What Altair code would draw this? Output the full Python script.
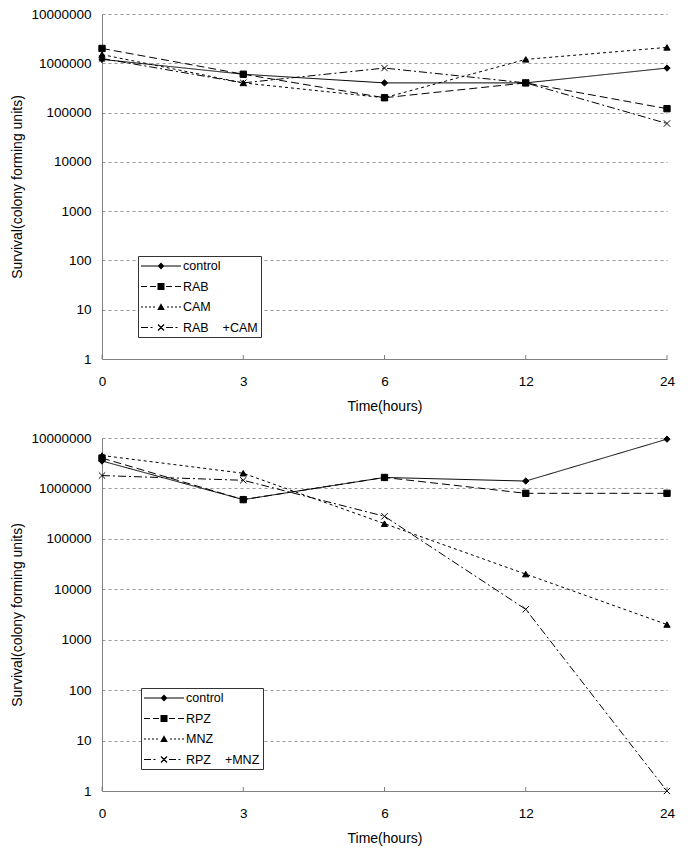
import altair as alt
import pandas as pd

hours = ["0", "3", "6", "12", "24"]
y_ticks = [1, 10, 100, 1000, 10000, 100000, 1000000, 10000000]

NB = "\u00a0"
top_names = ["control", "RAB", "CAM", "RAB" + NB * 4 + "+CAM" + NB * 3]
top_control = [1200000, 600000, 400000, 400000, 800000]
top_rab = [2000000, 600000, 200000, 400000, 120000]
top_cam = [1500000, 400000, 200000, 1200000, 2100000]
top_rab_cam = [1250000, 400000, 800000, 400000, 60000]

bot_names = ["control", "RPZ", "MNZ", "RPZ" + NB * 4 + "+MNZ" + NB * 3]
bot_control = [3500000, 600000, 1650000, 1400000, 9500000]
bot_rpz = [4000000, 600000, 1650000, 800000, 800000]
bot_mnz = [4500000, 2000000, 200000, 20000, 2000]
bot_rpz_mnz = [1800000, 1450000, 280000, 4000, 1]

dashes = [[1, 0], [8, 4], [3, 3], [8, 3, 2, 3]]
marker_shapes = ["diamond", "square", "triangle-up", "M-1,-1L1,1M-1,1L1,-1"]

# ---- legend glyphs (line sample + marker), built as filled polygons ----
SYM = 169          # legend symbol size -> 1 unit = sqrt(SYM)/2 px
U = 6.5            # px per path unit
CX = 7             # symbol centre offset inside legend entry (px)
MX = 20            # marker centre along the 40px sample (px)


def _pt(px, py):
    return f"{(px - CX) / U:.3f},{py / U:.3f}"


def _poly(points):
    return "M" + "L".join(_pt(a, b) for a, b in points) + "Z"


def _seg(x0, x1, h=0.55):
    return _poly([(x0, -h), (x1, -h), (x1, h), (x0, h)])


def _segs(pairs):
    return "".join(_seg(a, b) for a, b in pairs)


diamond = _poly([(MX, -3.4), (MX + 3.4, 0), (MX, 3.4), (MX - 3.4, 0)])
square = _poly([(MX - 3.5, -3.5), (MX + 3.5, -3.5), (MX + 3.5, 3.5), (MX - 3.5, 3.5)])
triangle = _poly([(MX, -3.8), (MX + 3.8, 3.0), (MX - 3.8, 3.0)])
t = 0.45
cross = (_poly([(MX - 3 + t, -3 - t), (MX + 3 + t, 3 - t), (MX + 3 - t, 3 + t), (MX - 3 - t, -3 + t)])
         + _poly([(MX - 3 - t, 3 - t), (MX + 3 - t, -3 - t), (MX + 3 + t, -3 + t), (MX - 3 + t, 3 + t)]))

legend_paths = [
    _segs([(0, 40)]) + diamond,
    _segs([(0, 6), (9, 15), (25, 31), (34, 40)]) + square,
    _segs([(0, 2), (4, 6), (8, 10), (12, 14), (26, 28), (30, 32), (34, 36), (38, 40)]) + triangle,
    _segs([(0, 7), (9.5, 11.5), (25, 32), (34.5, 36.5)]) + cross,
]

FONT = "Liberation Sans"
W = 565


def panel(names, series, height, leg_x, leg_y):
    rows = []
    for n, vals in zip(names, series):
        for h, v in zip(hours, vals):
            rows.append({"hour": h, "value": v, "series": n})
    df = pd.DataFrame(rows)

    x = alt.X(
        "hour:O",
        sort=hours,
        scale=alt.Scale(type="point", padding=0),
        axis=alt.Axis(
            title="Time(hours)", labelAngle=0, ticks=False, grid=False,
            labelPadding=15, titlePadding=12, domainColor="#808080",
            labelFont=FONT, labelFontSize=13.5, labelColor="black",
            titleFont=FONT, titleFontSize=14, titleFontWeight="normal",
            titleColor="black",
        ),
    )
    y = alt.Y(
        "value:Q",
        scale=alt.Scale(type="log", domain=[1, 10000000], nice=False),
        axis=alt.Axis(
            values=y_ticks, format="d", title="Survival(colony forming units)",
            ticks=False, grid=True, gridDash=[3, 3], gridColor="#999999",
            domainColor="#808080", labelPadding=11, titlePadding=6,
            labelFont=FONT, labelFontSize=13.5, labelColor="black",
            titleFont=FONT, titleFontSize=14, titleFontWeight="normal",
            titleColor="black",
        ),
    )
    base = alt.Chart(df)
    lines = base.mark_line(color="black", strokeWidth=1).encode(
        x=x, y=y,
        strokeDash=alt.StrokeDash("series:N", scale=alt.Scale(domain=names, range=dashes), legend=None),
    )
    pts = base.mark_point(filled=True, color="black", stroke="black", strokeWidth=1,
                          opacity=1, size=40).encode(
        x=x, y=y,
        shape=alt.Shape("series:N", scale=alt.Scale(domain=names, range=marker_shapes), legend=None),
    )
    ticks = alt.Chart(pd.DataFrame({"hour": hours})).mark_rule(color="#808080").encode(
        x=x, y=alt.value(height), y2=alt.value(height - 4)
    )
    leg = base.transform_filter("false").mark_point(
        filled=True, color="black", opacity=1, size=SYM
    ).encode(
        shape=alt.Shape(
            "series:N",
            scale=alt.Scale(domain=names, range=legend_paths),
            legend=alt.Legend(
                title=None, orient="none", legendX=leg_x, legendY=leg_y,
                padding=3, strokeColor="#333333", fillColor="white",
                rowPadding=6.5, labelFont=FONT, labelFontSize=12.5,
                labelColor="black", labelOffset=28, symbolSize=SYM,
                symbolStrokeWidth=1, symbolFillColor="black",
            ),
        )
    )
    return alt.layer(lines, pts, ticks, leg).resolve_scale(shape="independent").properties(
        width=W, height=height
    )


top = panel(top_names, [top_control, top_rab, top_cam, top_rab_cam], 345, 36, 242)
bot = panel(bot_names, [bot_control, bot_rpz, bot_mnz, bot_rpz_mnz], 353, 39, 250)

chart = (
    alt.vconcat(top, bot, spacing=17)
    .resolve_scale(shape="independent", strokeDash="independent")
    .properties(padding={"top": -1, "left": 2, "right": 2, "bottom": 2})
    .configure_view(stroke=None)
)

chart.save("out.html", embed_options={"renderer": "svg", "actions": False})
